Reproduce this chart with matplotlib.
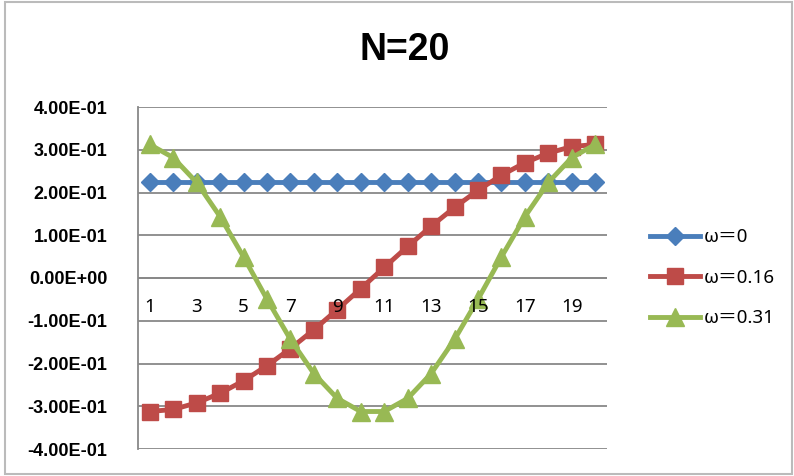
import matplotlib.pyplot as plt
from matplotlib.patches import Rectangle

# values per index n = 1..20
n = list(range(1, 21))
w0 = [0.2236] * 20
w016 = [-0.3123, -0.3075, -0.2921, -0.2697, -0.2404, -0.2052, -0.1651, -0.1210, -0.0738, -0.0248,
        0.0248, 0.0738, 0.1210, 0.1651, 0.2052, 0.2404, 0.2697, 0.2921, 0.3075, 0.3123]
w031 = [0.3123, 0.2817, 0.2236, 0.1436, 0.0495, -0.0495, -0.1436, -0.2236, -0.2817, -0.3123,
        -0.3123, -0.2817, -0.2236, -0.1436, -0.0495, 0.0495, 0.1436, 0.2236, 0.2817, 0.3123]
labels = ['ω＝0', 'ω＝0.16', 'ω＝0.31']
yticks = [-0.4, -0.3, -0.2, -0.1, 0.0, 0.1, 0.2, 0.3, 0.4]

plt.rcParams['font.family'] = ['Noto Sans', 'Noto Sans CJK SC', 'DejaVu Sans']
bold_fam = ['Liberation Sans', 'DejaVu Sans']

fig = plt.figure(figsize=(7.94, 4.76), dpi=100)
ax = fig.add_axes([138/794, 1-449/476, 469/794, 342/476])

ax.plot(n, w0, color='#4a7ebb', lw=3.5, marker='D', ms=9, label=labels[0])
ax.plot(n, w016, color='#be4b48', lw=3.5, marker='s', ms=11.5, label=labels[1])
ax.plot(n, w031, color='#98b954', lw=3.5, marker='^', ms=12.5, label=labels[2])

ax.set_xlim(0.5, 20.5)
ax.set_ylim(-0.4, 0.4)
ax.set_yticks(yticks)
ax.set_yticklabels(['%.2E' % v for v in yticks], fontsize=13, fontweight='bold',
                   family=bold_fam)
ax.yaxis.grid(True, color='#888888', lw=1.3)
ax.set_axisbelow(True)
ax.tick_params(axis='y', length=0, pad=22)
ax.set_xticks([])
for s in ['top', 'right', 'bottom']:
    ax.spines[s].set_visible(False)
ax.spines['left'].set_color('#888888')
ax.spines['left'].set_linewidth(1.3)
ax.axhline(0, color='#888888', lw=1.3, zorder=0)

# category labels sit just under the zero line
for k in n[::2]:
    ax.text(k, -0.068, str(k), ha='center', va='center', fontsize=13.5)

fig.text(405/794, 1-50/476, 'N=20', ha='center', va='center', fontsize=27,
         fontweight='bold', family=bold_fam)

leg = fig.legend(loc='center left', bbox_to_anchor=(0.797, 0.416), frameon=False,
                 fontsize=13.5, handlelength=2.7, handletextpad=0.2, labelspacing=1.2)

fig.patches.append(Rectangle((5/794, 2/476), 787/794, 472/476, transform=fig.transFigure,
                             fill=False, edgecolor='#bbbbbb', lw=1.5))

fig.savefig('out.png', dpi=100)
